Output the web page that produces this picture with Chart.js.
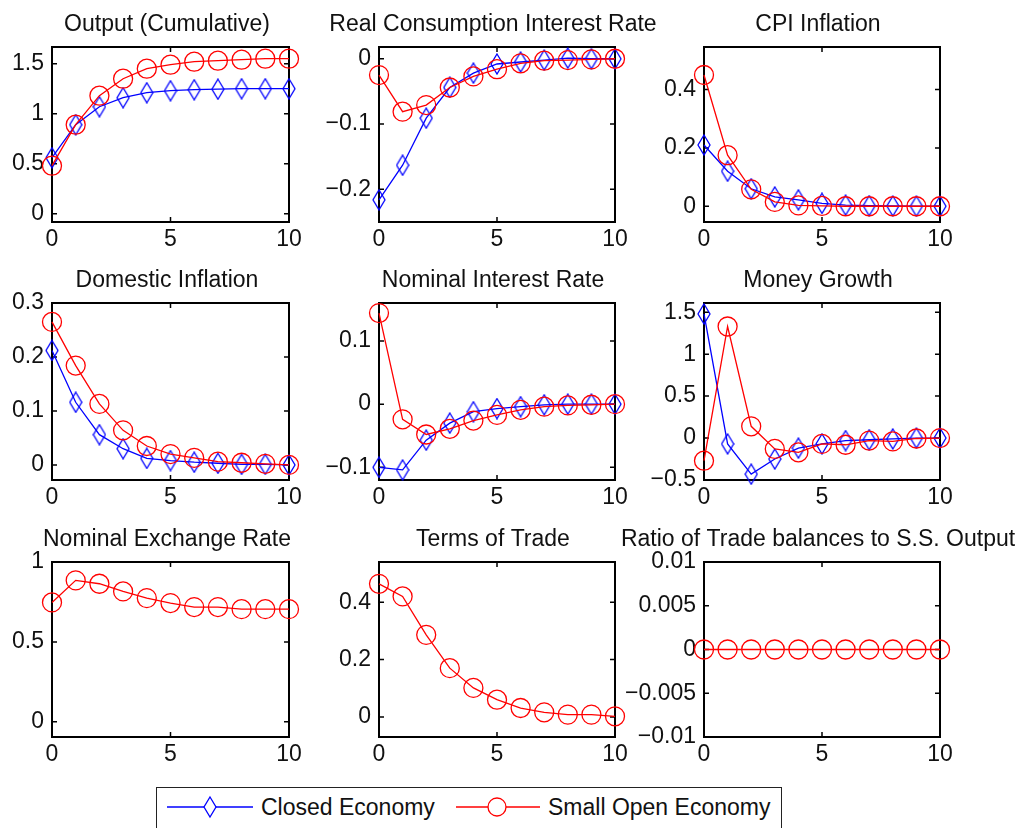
<!DOCTYPE html>
<html>
<head>
<meta charset="utf-8">
<script src="https://cdn.jsdelivr.net/npm/chart.js@4.4.1/dist/chart.umd.min.js"></script>
<style>
  body { margin: 0; background: #fff; width: 1031px; height: 828px; overflow: hidden; position: relative;
         font-family: "Liberation Sans", Arial, sans-serif; }
  canvas.panel { position: absolute; }
  #legend { position: absolute; left: 156px; top: 787px; width: 626px; height: 48px;
            border: 1.5px solid #222; box-sizing: border-box; background: #fff; }
  #legend svg, #legend span { position: absolute; }
  #legend span { font-size: 23px; color: #111; top: 6px; line-height: 27px; }
</style>
</head>
<body>
<div id="legend">
  <svg style="left:10px;top:6px" width="88" height="26">
    <line x1="0" y1="13" x2="86" y2="13" stroke="#0000ff" stroke-width="1.3"/>
    <path d="M43 3 L49 13 L43 23 L37 13 Z" fill="#fff" stroke="#0000ff" stroke-width="1.3"/>
  </svg>
  <span style="left:104px">Closed Economy</span>
  <svg style="left:299px;top:6px" width="86" height="26">
    <line x1="0" y1="13" x2="84" y2="13" stroke="#ff0000" stroke-width="1.3"/>
    <circle cx="41" cy="13" r="9" fill="#fff" stroke="#ff0000" stroke-width="1.3"/>
  </svg>
  <span style="left:391px">Small Open Economy</span>
</div>
<script>
// periods after the shock
var periods = [0, 1, 2, 3, 4, 5, 6, 7, 8, 9, 10];
var xTicks = [0, 5, 10];

var titles = ["Output (Cumulative)", "Real Consumption Interest Rate", "CPI Inflation",
              "Domestic Inflation", "Nominal Interest Rate", "Money Growth",
              "Nominal Exchange Rate", "Terms of Trade", "Ratio of Trade balances to S.S. Output"];

// closed economy responses (first six panels only)
var closedOutput   = [0.56, 0.89, 1.07, 1.16, 1.21, 1.23, 1.24, 1.245, 1.25, 1.25, 1.25];
var closedRealRate = [-0.216, -0.163, -0.091, -0.044, -0.022, -0.008, -0.005, -0.002, 0.001, 0, 0];
var closedCPI      = [0.21, 0.12, 0.06, 0.032, 0.022, 0.01, 0.004, 0.002, 0.001, 0, 0];
var closedDomestic = [0.212, 0.116, 0.056, 0.03, 0.012, 0.008, 0.005, 0.003, 0.001, 0.001, 0];
var closedNominal  = [-0.1, -0.104, -0.057, -0.03, -0.012, -0.007, -0.004, -0.001, 0, 0, 0];
var closedMoney    = [1.48, -0.07, -0.43, -0.25, -0.12, -0.07, -0.03, -0.02, -0.01, 0, 0];

// small open economy responses
var openOutput     = [0.48, 0.89, 1.18, 1.35, 1.45, 1.49, 1.52, 1.53, 1.54, 1.55, 1.55];
var openRealRate   = [-0.025, -0.081, -0.071, -0.044, -0.027, -0.016, -0.007, -0.003, -0.002, -0.001, 0];
var openCPI        = [0.45, 0.175, 0.058, 0.015, 0.003, 0.001, 0, 0, 0, 0, 0];
var openDomestic   = [0.265, 0.184, 0.113, 0.064, 0.035, 0.02, 0.013, 0.006, 0.004, 0.002, 0];
var openNominal    = [0.144, -0.024, -0.048, -0.039, -0.026, -0.017, -0.009, -0.004, -0.002, -0.001, 0];
var openMoney      = [-0.27, 1.33, 0.14, -0.13, -0.17, -0.07, -0.08, -0.03, -0.04, -0.005, 0];
var openExchange   = [0.747, 0.885, 0.864, 0.816, 0.774, 0.743, 0.718, 0.718, 0.705, 0.705, 0.705];
var openTerms      = [0.464, 0.42, 0.286, 0.17, 0.101, 0.06, 0.031, 0.016, 0.008, 0.008, 0.002];
var openTradeRatio = [0, 0, 0, 0, 0, 0, 0, 0, 0, 0, 0];

var closedSeries = [closedOutput, closedRealRate, closedCPI, closedDomestic, closedNominal, closedMoney, null, null, null];
var openSeries = [openOutput, openRealRate, openCPI, openDomestic, openNominal, openMoney, openExchange, openTerms, openTradeRatio];

// y tick labels and limits per panel
var yTicks = [[0, 0.5, 1, 1.5], [-0.2, -0.1, 0], [0, 0.2, 0.4],
              [0, 0.1, 0.2, 0.3], [-0.1, 0, 0.1], [-0.5, 0, 0.5, 1, 1.5],
              [0, 0.5, 1], [0, 0.2, 0.4], [-0.01, -0.005, 0, 0.005, 0.01]];
var yMin = [-0.083, -0.25, -0.054, -0.028, -0.12, -0.5, -0.095, -0.07, -0.01];
var yMax = [1.667, 0.018, 0.546, 0.3, 0.16, 1.61, 1, 0.54, 0.01];

// plot box positions on the page
var colLeft = [52, 379, 704], colRight = [289, 615, 940];
var rowTop = [47, 303, 562], rowBottom = [222, 480, 737];
var FONT = '"Liberation Sans", Arial, sans-serif';

// tall diamond marker like matlab's
function diamond() {
  var c = document.createElement('canvas');
  c.width = 14; c.height = 22;
  var g = c.getContext('2d');
  g.strokeStyle = '#0000ff'; g.lineWidth = 1.3;
  g.beginPath();
  g.moveTo(7, 1); g.lineTo(13, 11); g.lineTo(7, 21); g.lineTo(1, 11); g.closePath();
  g.stroke();
  return c;
}
var diamondImg = diamond();

// box + inward ticks on all four sides
var framePlugin = {
  id: 'frame',
  beforeDatasetsDraw: function (chart) {
    var a = chart.chartArea, ctx = chart.ctx, xs = chart.scales.x, ys = chart.scales.y;
    ctx.save();
    ctx.strokeStyle = '#000';
    ctx.lineWidth = 1.5;
    ctx.beginPath();
    xs.ticks.forEach(function (t) {
      var px = xs.getPixelForValue(t.value);
      ctx.moveTo(px, a.bottom); ctx.lineTo(px, a.bottom - 5);
      ctx.moveTo(px, a.top); ctx.lineTo(px, a.top + 5);
    });
    ys.ticks.forEach(function (t) {
      var py = ys.getPixelForValue(t.value);
      ctx.moveTo(a.left, py); ctx.lineTo(a.left + 5, py);
      ctx.moveTo(a.right, py); ctx.lineTo(a.right - 5, py);
    });
    ctx.stroke();
    ctx.lineWidth = 2;
    ctx.strokeRect(a.left, a.top, a.right - a.left, a.bottom - a.top);
    ctx.restore();
  }
};

var W = 440;
for (var i = 0; i < 9; i++) {
  (function (i) {
    var r = Math.floor(i / 3), c = i % 3;
    var L = colLeft[c], R = colRight[c], T = rowTop[r], B = rowBottom[r];
    // titles sit a few px left of the box centre
    var left = Math.round((L + R) / 2 - W / 2 - 4);
    var padLeft = L - left, padRight = left + W - R;
    var top = T - 36;
    var H = (B - T) + 36 + 32;

    var cv = document.createElement('canvas');
    cv.className = 'panel';
    cv.width = W; cv.height = H;
    cv.style.left = left + 'px'; cv.style.top = top + 'px';
    cv.style.width = W + 'px'; cv.style.height = H + 'px';
    document.body.appendChild(cv);

    var datasets = [{
      label: 'Small Open Economy',
      data: openSeries[i],
      borderColor: '#ff0000', backgroundColor: 'rgba(0,0,0,0)',
      borderWidth: 1.3, pointStyle: 'circle', pointRadius: 9.5, pointBorderWidth: 1.3,
      pointBorderColor: '#ff0000', pointBackgroundColor: 'rgba(0,0,0,0)',
      tension: 0, clip: false, order: 1
    }];
    if (closedSeries[i]) {
      datasets.push({
        label: 'Closed Economy',
        data: closedSeries[i],
        borderColor: '#0000ff', backgroundColor: 'rgba(0,0,0,0)',
        borderWidth: 1.3, pointStyle: diamondImg, pointRadius: 7,
        tension: 0, clip: false, order: 2
      });
    }

    new Chart(cv, {
      type: 'line',
      data: { labels: periods, datasets: datasets },
      plugins: [framePlugin],
      options: {
        responsive: false,
        animation: false,
        layout: { padding: 0 },
        plugins: {
          legend: { display: false },
          tooltip: { enabled: false },
          title: {
            display: true, text: titles[i], color: '#111',
            font: { family: FONT, size: 23, weight: 'normal', lineHeight: 1.2 },
            padding: { top: 0, bottom: 8.4 }
          }
        },
        scales: {
          x: {
            type: 'linear', min: 0, max: 10,
            grid: { display: false, drawTicks: false },
            border: { display: false },
            afterBuildTicks: function (s) { s.ticks = xTicks.map(function (v) { return { value: v }; }); },
            afterFit: function (s) { s.height = 32; },
            ticks: { color: '#111', padding: 4, maxRotation: 0, font: { family: FONT, size: 23 } }
          },
          y: {
            min: yMin[i], max: yMax[i],
            grid: { display: false, drawTicks: false },
            border: { display: false },
            afterBuildTicks: function (s) { s.ticks = yTicks[i].map(function (v) { return { value: v }; }); },
            afterFit: function (s) { s.width = padLeft; },
            ticks: {
              color: '#111', padding: 8, font: { family: FONT, size: 23 },
              callback: function (v) { return String(v).replace('-', '\u2212'); }
            }
          },
          // empty right-hand spacer so the title centres where we want it
          yRight: {
            position: 'right',
            grid: { display: false, drawTicks: false },
            border: { display: false },
            ticks: { display: false },
            afterFit: function (s) { s.width = padRight; }
          }
        }
      }
    });
  })(i);
}
</script>
</body>
</html>
